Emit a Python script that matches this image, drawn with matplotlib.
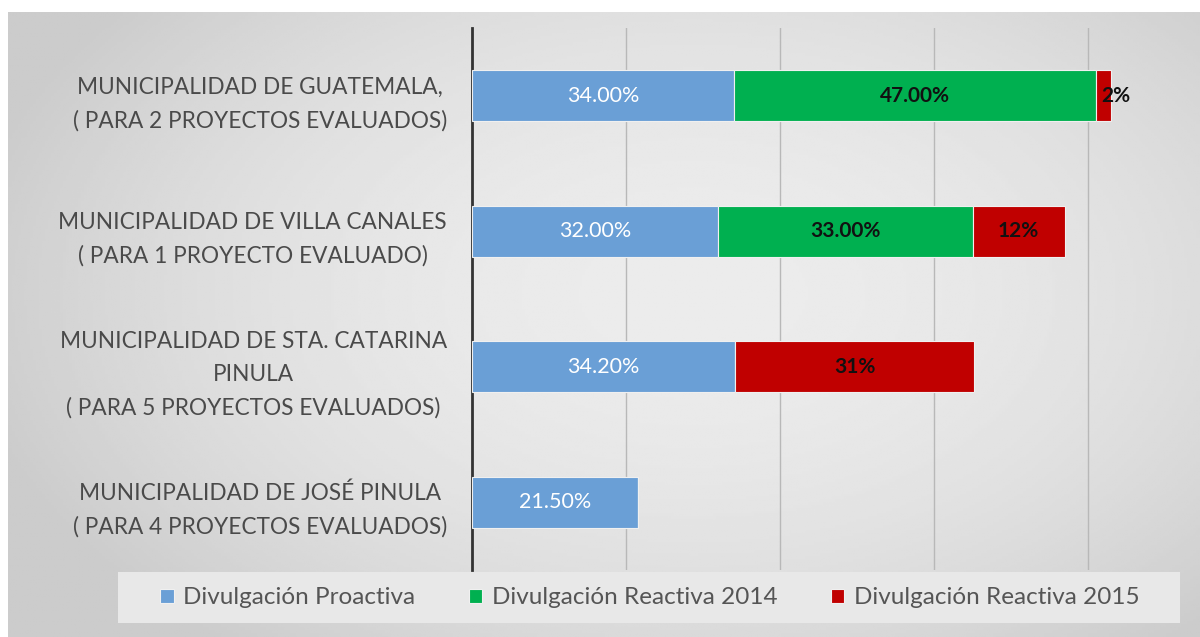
import numpy as np
import matplotlib
matplotlib.use("Agg")
import matplotlib.pyplot as plt
from matplotlib.patches import Rectangle

plt.rcParams['font.family'] = ['Lato', 'DejaVu Sans']

# data
categorias = [
    "MUNICIPALIDAD DE GUATEMALA,\n( PARA 2 PROYECTOS EVALUADOS)",
    "MUNICIPALIDAD DE VILLA CANALES\n( PARA 1 PROYECTO EVALUADO)",
    "MUNICIPALIDAD DE STA. CATARINA\nPINULA\n( PARA 5 PROYECTOS EVALUADOS)",
    "MUNICIPALIDAD DE JOSÉ PINULA\n( PARA 4 PROYECTOS EVALUADOS)",
]
proactiva = [34.0, 32.0, 34.2, 21.5]
reactiva_2014 = [47.0, 33.0, 0.0, 0.0]
reactiva_2015 = [2.0, 12.0, 31.0, 0.0]

etq_proactiva = ["34.00%", "32.00%", "34.20%", "21.50%"]
etq_2014 = ["47.00%", "33.00%", "", ""]
etq_2015 = ["2%", "12%", "31%", ""]

series = ["Divulgación Proactiva", "Divulgación Reactiva 2014", "Divulgación Reactiva 2015"]
colores = ["#6a9fd6", "#00b050", "#c00000"]

fig = plt.figure(figsize=(12, 6.37), dpi=100)
fig.patch.set_facecolor("white")

# gradient background panel
bg = fig.add_axes([8 / 1200, 0, 1 - 8 / 1200, 1 - 12 / 637], zorder=-5)
gx, gy = np.meshgrid(np.linspace(-1, 1, 400), np.linspace(-1, 1, 220))
r = np.sqrt(((gx - 0.15) / 1.1) ** 2 + ((gy + 0.1) / 1.3) ** 2)
grad = np.clip(0.925 - 0.10 * r ** 2, 0.80, 0.93)
bg.imshow(grad, cmap="gray", vmin=0, vmax=1, aspect="auto", extent=[0, 1, 0, 1])
bg.axis("off")

# legend box
fig.patches.append(Rectangle((118 / 1200, 1 - 623 / 637), 1062 / 1200, 51 / 637,
                             transform=fig.transFigure, facecolor="#e8e8e8",
                             edgecolor="none", zorder=-1))

ax = fig.add_axes([472 / 1200, 1 - 570 / 637, 693 / 1200, 542 / 637])
ax.patch.set_alpha(0)

y = np.arange(len(categorias))
h = 0.38
izq = np.zeros(len(categorias))
valores = [proactiva, reactiva_2014, reactiva_2015]
etiquetas = [etq_proactiva, etq_2014, etq_2015]
for i, (vals, col, nom) in enumerate(zip(valores, colores, series)):
    ax.barh(y, vals, left=izq, height=h, color=col, edgecolor="#f0f0f0",
            linewidth=0.8, label=nom, zorder=3)
    for j, v in enumerate(vals):
        if v > 0:
            cx = izq[j] + v / 2
            if i == 0:
                ax.text(cx, y[j], etiquetas[i][j], ha="center", va="center",
                        color="white", fontsize=15.5, zorder=4)
            else:
                if v < 4:
                    cx = izq[j] + v + 0.6
                ax.text(cx, y[j], etiquetas[i][j], ha="center", va="center",
                        color="#111111", fontsize=15, fontweight="bold", zorder=4)
    izq = izq + np.array(vals)

ax.set_xlim(0, 90)
ax.set_ylim(3.5, -0.5)
ax.set_xticks([20, 40, 60, 80])
ax.set_xticklabels([])
ax.tick_params(axis="x", length=0)
ax.grid(axis="x", color="#b8b8b8", linewidth=1, zorder=0)
ax.set_yticks(y)
ax.set_yticklabels(categorias, fontsize=16.3, color="#4a4a4a",
                   multialignment="center", linespacing=1.7)
ax.tick_params(axis="y", length=0, pad=18)
for s in ["top", "right", "bottom"]:
    ax.spines[s].set_visible(False)
ax.spines["left"].set_color("#333333")
ax.spines["left"].set_linewidth(2)

leg = fig.legend(loc="center", bbox_to_anchor=(650 / 1200, 1 - 598 / 637), ncol=3,
                 fontsize=17.5, frameon=False, handlelength=0.55,
                 handleheight=0.55, handletextpad=0.4, columnspacing=2.2)
for t in leg.get_texts():
    t.set_color("#555555")

fig.savefig("out.png", dpi=100)
